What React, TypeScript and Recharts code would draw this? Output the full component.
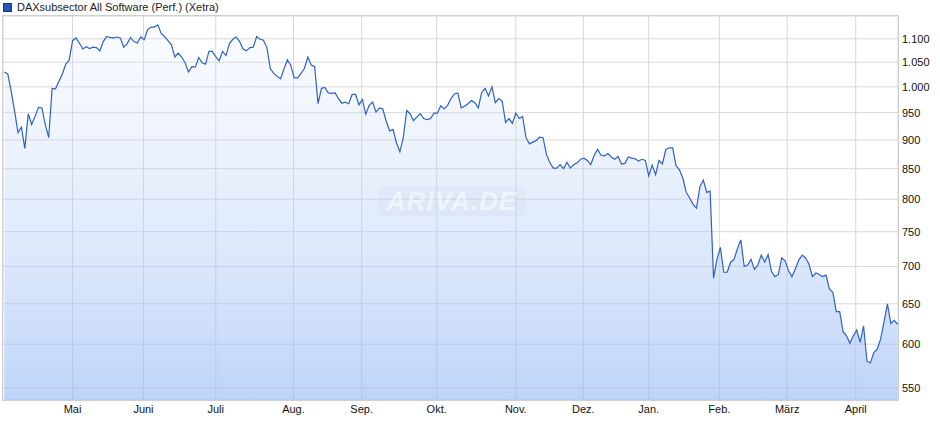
import { AreaChart, Area, XAxis, YAxis, CartesianGrid } from 'recharts';

// one value per trading day, late April to late April
const closes = [
  1030, 1026, 991, 953, 913, 923, 885, 948, 928, 943,
  960, 959, 928, 904, 997, 996, 1011, 1026, 1046, 1054,
  1096, 1102, 1091, 1078, 1083, 1079, 1082, 1081, 1074, 1094,
  1105, 1103, 1102, 1104, 1102, 1082, 1089, 1103, 1094, 1091,
  1104, 1098, 1120, 1126, 1126, 1131, 1112, 1105, 1096, 1087,
  1061, 1069, 1061, 1049, 1030, 1041, 1040, 1060, 1049, 1046,
  1073, 1073, 1062, 1053, 1073, 1064,
  1089, 1099, 1104, 1094, 1078, 1074, 1081, 1082, 1105, 1099,
  1097, 1081, 1037, 1027, 1021, 1016, 1036, 1055, 1044, 1018,
  1018, 1027, 1037, 1061, 1044, 1041, 967, 997, 999, 988,
  987, 988, 977, 968, 970, 967, 985, 985, 965, 975,
  947, 964, 970, 951, 959, 957, 934, 916, 919, 895,
  879, 904, 954, 948, 935, 942, 948, 939, 937, 939,
  949, 949, 963, 957, 964, 977, 986,
  988, 959, 962, 967, 973, 969, 959, 989, 997, 982,
  1000, 969, 977, 972, 932, 939, 930, 949, 939, 943,
  904, 893, 896, 899, 905, 904, 874, 860, 851, 851,
  857, 850, 861, 851, 857, 860, 866, 868, 864, 857,
  873, 883, 873, 872, 876, 870, 866, 871, 858, 859,
  870, 868, 867, 863, 866, 864, 838, 856, 840, 864,
  858, 883, 886, 886, 855, 848, 834, 811, 802, 792,
  786, 820, 831, 811, 813, 684, 710, 727, 692, 692,
  706, 710, 725, 738, 700, 702, 710, 696, 702, 716,
  706, 717, 693, 686, 689, 712, 708, 694, 686, 697,
  709, 716, 712, 703, 686, 691, 689, 686, 688, 669,
  665, 640, 640, 615, 610, 601, 610, 617, 602, 622,
  580, 578, 590, 594, 606, 627, 650, 625, 629, 624,
];

// month starts, in trading-day index
const monthTicks = [20, 40.8, 62, 84.8, 104.8, 126.8, 150, 169.8, 189, 209.7, 229.6, 249.7];
const monthLabels = ['Mai', 'Juni', 'Juli', 'Aug.', 'Sep.', 'Okt.', 'Nov.', 'Dez.', 'Jan.', 'Feb.', 'März', 'April'];

const priceTicks = [550, 600, 650, 700, 750, 800, 850, 900, 950, 1000, 1050, 1100];
const priceDomain = [537, 1151];
const dayDomain = [-0.4, 262.1];

const fontFamily = '"Liberation Sans", Arial, sans-serif';

const formatPrice = (v: number) =>
  v >= 1000 ? `${Math.floor(v / 1000)}.${String(v % 1000).padStart(3, '0')}` : String(v);

export default function App() {
  const data = closes.map((v, i) => ({ i, v }));

  return (
    <div style={{ position: 'absolute', left: 0, top: 0, width: 940, height: 435, fontFamily }}>
      <div
        style={{
          position: 'absolute',
          left: 3,
          top: 1,
          fontSize: 11,
          lineHeight: '13px',
          color: '#222',
          display: 'flex',
          alignItems: 'center',
          gap: 5,
        }}
      >
        <span
          style={{
            display: 'inline-block',
            width: 7,
            height: 7,
            background: '#2456b4',
            border: '1px solid #123a80',
          }}
        />
        <span>DAXsubsector All Software (Perf.) (Xetra)</span>
      </div>

      <AreaChart width={940} height={435} data={data} margin={{ top: 16, right: 0, bottom: 0, left: 3 }}>
        <defs>
          <linearGradient id="fillArea" x1="0" y1="0" x2="0" y2="1">
            <stop offset="0%" stopColor="rgb(215,228,250)" stopOpacity={0.15} />
            <stop offset="100%" stopColor="rgb(150,185,245)" stopOpacity={0.62} />
          </linearGradient>
        </defs>
        <CartesianGrid stroke="#d8d8d8" strokeWidth={1} />
        <XAxis
          dataKey="i"
          type="number"
          domain={dayDomain}
          ticks={monthTicks}
          interval={0}
          tickFormatter={(t: number) => monthLabels[monthTicks.indexOf(t)] ?? ''}
          tickLine={false}
          axisLine={false}
          tickSize={0}
          tickMargin={5}
          height={35}
          tick={{ fill: '#111', fontSize: 11, fontFamily }}
          allowDataOverflow
        />
        <YAxis
          orientation="right"
          scale="log"
          type="number"
          domain={priceDomain}
          ticks={priceTicks}
          interval={0}
          tickFormatter={formatPrice}
          tickLine={false}
          axisLine={false}
          tickSize={0}
          tickMargin={4}
          width={42}
          tick={{ fill: '#111', fontSize: 11, fontFamily, textAnchor: 'start' }}
          allowDataOverflow
        />
        <Area
          type="linear"
          dataKey="v"
          stroke="#2e62c4"
          strokeWidth={1.2}
          fill="url(#fillArea)"
          fillOpacity={1}
          baseValue={priceDomain[0]}
          dot={false}
          activeDot={false}
          isAnimationActive={false}
        />
      </AreaChart>

      {/* plot frame */}
      <div
        style={{
          position: 'absolute',
          left: 2,
          top: 15,
          width: 895,
          height: 384,
          border: '1px solid #cfcfcf',
          pointerEvents: 'none',
        }}
      />
      {/* faint watermark */}
      <div
        style={{
          position: 'absolute',
          left: 378,
          top: 186,
          width: 148,
          height: 30,
          borderRadius: 6,
          background: 'rgba(200,210,225,0.18)',
          color: 'rgba(255,255,255,0.55)',
          fontSize: 26,
          fontWeight: 'bold',
          fontStyle: 'italic',
          lineHeight: '30px',
          textAlign: 'center',
          letterSpacing: 1,
          pointerEvents: 'none',
        }}
      >
        ARIVA.DE
      </div>
    </div>
  );
}
